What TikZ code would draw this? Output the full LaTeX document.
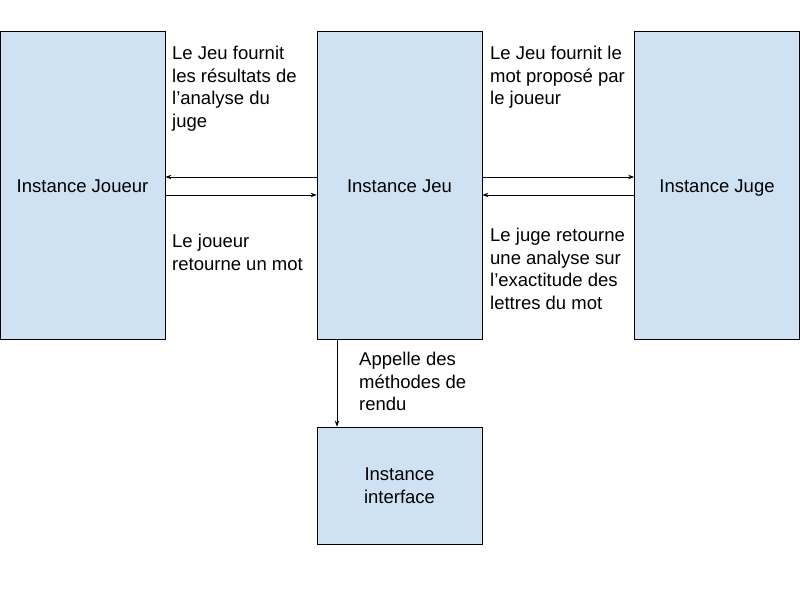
\documentclass[tikz,border=0pt]{standalone}
\usepackage{fontspec}
\setmainfont{Liberation Sans}
\usetikzlibrary{arrows.meta}
\definecolor{boxblue}{HTML}{CFE2F3}

\begin{document}
\begin{tikzpicture}[x=1pt,y=-1pt,
  font=\fontsize{18.5}{22.5}\selectfont,
  box/.style={draw=black,line width=0.8pt,fill=boxblue,inner sep=0pt,minimum width=165pt},
  tall/.style={box,minimum height=308pt,text height=15pt,text depth=0pt},
  note/.style={anchor=north west,align=left,inner sep=0pt},
  link/.style={line width=0.9pt,-{Stealth[length=6pt,width=4.5pt]}}]
\useasboundingbox (0,0) rectangle (800,600);
\node[tall] (joueur) at (82.5,185) {Instance Joueur};
\node[tall] (jeu) at (399.5,185) {Instance Jeu};
\node[tall] (juge) at (717,185) {Instance Juge};
\node[box,minimum height=117pt,align=center] (iface) at (399.5,485.5) {Instance\\interface};
\node[note] (fournitA) at (172,46) {Le Jeu fournit\\les résultats de\\l’analyse du\\juge};
\node[note] (fournitB) at (490,46) {Le Jeu fournit le\\mot proposé par\\le joueur};
\node[note] (retourA) at (172,234) {Le joueur\\retourne un mot};
\node[note] (retourB) at (490,228) {Le juge retourne\\une analyse sur\\l’exactitude des\\lettres du mot};
\node[note] (rendu) at (359,352) {Appelle des\\méthodes de\\rendu};
\draw[link] ([yshift=8pt]jeu.west) -- ([yshift=8pt]joueur.east);
\draw[link] ([yshift=-10pt]joueur.east) -- ([yshift=-10pt]jeu.west);
\draw[link] ([yshift=8pt]jeu.east) -- ([yshift=8pt]juge.west);
\draw[link] ([yshift=-10pt]juge.west) -- ([yshift=-10pt]jeu.east);
\draw[link] ([xshift=-62.5pt]jeu.south) -- ([xshift=-62.5pt]iface.north);
\end{tikzpicture}
\end{document}
